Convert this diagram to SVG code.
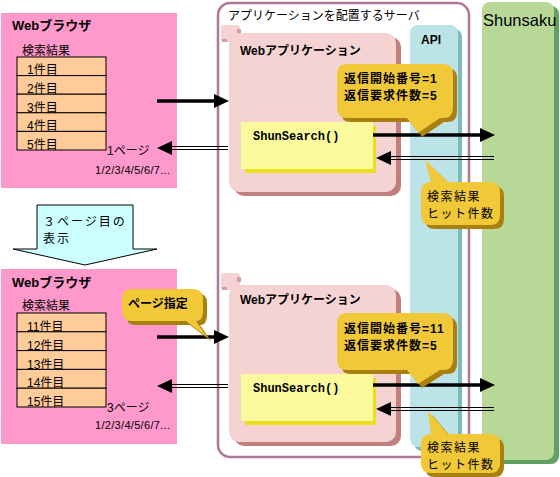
<svg xmlns="http://www.w3.org/2000/svg" width="560" height="477" viewBox="0 0 560 477">
<style>
text{font-family:"Liberation Sans","Noto Sans CJK JP",sans-serif;font-size:12px;fill:#000}
.b{font-weight:bold}
.mono{font-family:"Liberation Mono","Noto Sans CJK JP",monospace;font-weight:bold;font-size:12px}
.browser{fill:#ff99cc}
.cell{fill:#ffcc99;stroke:#000;stroke-width:1}
.app{fill:#f5d3d3}
.appsh{fill:#c08080}
.call{fill:#f0c838}
.callsh{fill:#a88010}
.ss{fill:#fafa9c}
.sssh{fill:#e8e020}
.thick{stroke:#000;stroke-width:3.5;fill:none}
.thin{stroke:#000;stroke-width:1;fill:none}
</style>
<defs>
<path id="hr" d="M0,0 L-15,-7 L-15,7 Z" fill="#000"/>
<path id="hl" d="M0,0 L15,-7 L15,7 Z" fill="#000"/>
</defs>
<rect width="560" height="477" fill="#fff"/>

<g id="server">
<rect x="218" y="3" width="251" height="454" rx="12" fill="none" stroke="#b07898" stroke-width="2.5"/>
<text x="228" y="20">アプリケーションを配置するサーバ</text>
</g>

<g id="api">
<rect x="414" y="29" width="48" height="422" rx="8" fill="#80b8c0"/>
<rect x="410" y="25" width="48" height="422" rx="8" fill="#bce3e8"/>
<text x="421" y="44" class="b">API</text>
</g>

<g id="shunsaku">
<rect x="486" y="6" width="73" height="458" rx="8" fill="#60a060"/>
<rect x="482" y="2" width="72" height="458" rx="8" fill="#b8d898"/>
<text x="483" y="26" style="font-size:16.5px">Shunsaku</text>
</g>

<g id="browser1">
<rect x="1" y="13" width="176" height="175" class="browser"/>
<text x="12" y="30" class="b" style="font-size:13px">Webブラウザ</text>
<text x="22" y="55">検索結果</text>
<rect x="17" y="57" width="89" height="18.6" class="cell"/>
<rect x="17" y="75.6" width="89" height="18.6" class="cell"/>
<rect x="17" y="94.2" width="89" height="18.6" class="cell"/>
<rect x="17" y="112.8" width="89" height="18.6" class="cell"/>
<rect x="17" y="131.4" width="89" height="18.6" class="cell"/>
<text x="27" y="74">1件目</text>
<text x="27" y="93">2件目</text>
<text x="27" y="112">3件目</text>
<text x="27" y="130">4件目</text>
<text x="27" y="149">5件目</text>
<text x="107" y="155">1ページ</text>
<text x="95" y="174" style="font-size:11px" textLength="75">1/2/3/4/5/6/7...</text>
</g>

<g id="browser2">
<rect x="1" y="269" width="176" height="175" class="browser"/>
<text x="12" y="287" class="b" style="font-size:13px">Webブラウザ</text>
<text x="22" y="310">検索結果</text>
<rect x="17" y="313" width="89" height="18.8" class="cell"/>
<rect x="17" y="331.8" width="89" height="18.8" class="cell"/>
<rect x="17" y="350.6" width="89" height="18.8" class="cell"/>
<rect x="17" y="369.4" width="89" height="18.8" class="cell"/>
<rect x="17" y="388.2" width="89" height="18.8" class="cell"/>
<text x="27" y="331">11件目</text>
<text x="27" y="350">12件目</text>
<text x="27" y="369">13件目</text>
<text x="27" y="387">14件目</text>
<text x="27" y="406">15件目</text>
<text x="107" y="412">3ページ</text>
<text x="95" y="429" style="font-size:11px" textLength="75">1/2/3/4/5/6/7...</text>
</g>

<g id="downarrow">
<polygon points="37,205 133,205 133,249 157,249 85,265 13,249 37,249" fill="#ccffff" stroke="#000" stroke-width="1"/>
<text x="43" y="226" letter-spacing="2">３ページ目の</text>
<text x="43" y="243" letter-spacing="2">表示</text>
</g>

<g id="webapp1">
<rect x="221" y="25" width="19" height="17" rx="3" fill="#f5d3d3"/>
<rect x="222" y="39" width="5" height="3" fill="#d898b8"/>
<rect x="237" y="29" width="4" height="5" fill="#d898b8"/>
<rect x="234" y="37" width="167" height="159" rx="10" class="appsh"/>
<rect x="229" y="33" width="167" height="159" rx="10" class="app"/>
<text x="240" y="55" class="b">Webアプリケーション</text>
</g>

<g id="webapp2">
<rect x="221" y="273" width="19" height="17" rx="3" fill="#f5d3d3"/>
<rect x="222" y="287" width="5" height="3" fill="#d898b8"/>
<rect x="237" y="277" width="4" height="5" fill="#d898b8"/>
<rect x="234" y="289" width="167" height="157" rx="10" class="appsh"/>
<rect x="229" y="285" width="167" height="157" rx="10" class="app"/>
<text x="240" y="304" class="b">Webアプリケーション</text>
</g>

<g id="shunsearch1">
<rect x="245" y="126" width="131" height="47" class="sssh"/>
<rect x="241" y="122" width="132" height="47" class="ss"/>
<text x="253" y="140" class="mono">ShunSearch()</text>
</g>

<g id="shunsearch2">
<rect x="245" y="378" width="131" height="47" class="sssh"/>
<rect x="241" y="374" width="132" height="47" class="ss"/>
<text x="253" y="392" class="mono">ShunSearch()</text>
</g>

<g id="connectors">
<line x1="157" y1="101" x2="215" y2="101" class="thick"/>
<use href="#hr" x="229" y="101"/>
<line x1="170" y1="146.5" x2="228" y2="146.5" class="thin"/>
<line x1="170" y1="149.5" x2="228" y2="149.5" class="thin"/>
<use href="#hl" x="157" y="148"/>
<line x1="373" y1="135" x2="482" y2="135" class="thick"/>
<use href="#hr" x="495" y="135"/>
<line x1="390" y1="156.5" x2="494" y2="156.5" class="thin"/>
<line x1="390" y1="159.5" x2="494" y2="159.5" class="thin"/>
<use href="#hl" x="376" y="158"/>

<line x1="157" y1="337" x2="215" y2="337" class="thick"/>
<use href="#hr" x="229" y="337"/>
<line x1="170" y1="384.5" x2="228" y2="384.5" class="thin"/>
<line x1="170" y1="387.5" x2="228" y2="387.5" class="thin"/>
<use href="#hl" x="157" y="386"/>
<line x1="373" y1="385" x2="482" y2="385" class="thick"/>
<use href="#hr" x="495" y="385"/>
<line x1="390" y1="407.5" x2="494" y2="407.5" class="thin"/>
<line x1="390" y1="410.5" x2="494" y2="410.5" class="thin"/>
<use href="#hl" x="376" y="409"/>
</g>

<g id="callout-req1">
<path d="M347,64 H443 Q453,64 453,74 V108 Q453,118 443,118 H440 L418,133 L407,118 H347 Q337,118 337,108 V74 Q337,64 347,64 Z" class="callsh" transform="translate(4,4)"/>
<path d="M347,64 H443 Q453,64 453,74 V108 Q453,118 443,118 H440 L418,133 L407,118 H347 Q337,118 337,108 V74 Q337,64 347,64 Z" class="call"/>
<text x="344" y="83" class="b" letter-spacing="1">返信開始番号=1</text>
<text x="344" y="100" class="b" letter-spacing="1">返信要求件数=5</text>
</g>

<g id="callout-req2">
<path d="M347,313 H443 Q453,313 453,323 V360 Q453,370 443,370 H440 L418,384 L407,370 H347 Q337,370 337,360 V323 Q337,313 347,313 Z" class="callsh" transform="translate(4,4)"/>
<path d="M347,313 H443 Q453,313 453,323 V360 Q453,370 443,370 H440 L418,384 L407,370 H347 Q337,370 337,360 V323 Q337,313 347,313 Z" class="call"/>
<text x="344" y="333" class="b" letter-spacing="1">返信開始番号=11</text>
<text x="344" y="350" class="b" letter-spacing="1">返信要求件数=5</text>
</g>

<g id="callout-res1">
<path d="M431,182 L425,160 L448,182 H490 Q500,182 500,192 V215 Q500,225 490,225 H431 Q421,225 421,215 V192 Q421,182 431,182 Z" class="callsh" transform="translate(4,4)"/>
<path d="M431,182 L425,160 L448,182 H490 Q500,182 500,192 V215 Q500,225 490,225 H431 Q421,225 421,215 V192 Q421,182 431,182 Z" class="call"/>
<text x="427" y="201" letter-spacing="1.5">検索結果</text>
<text x="427" y="218" letter-spacing="1.5">ヒット件数</text>
</g>

<g id="callout-res2">
<path d="M431,434 L428,411 L448,434 H490 Q500,434 500,444 V463 Q500,473 490,473 H431 Q421,473 421,463 V444 Q421,434 431,434 Z" class="callsh" transform="translate(4,4)"/>
<path d="M431,434 L428,411 L448,434 H490 Q500,434 500,444 V463 Q500,473 490,473 H431 Q421,473 421,463 V444 Q421,434 431,434 Z" class="call"/>
<text x="427" y="452" letter-spacing="1.5">検索結果</text>
<text x="427" y="469" letter-spacing="1.5">ヒット件数</text>
</g>

<g id="callout-page">
<path d="M132,289 H193 Q203,289 203,299 V311 Q203,321 196,321 L207,337 L186,321 H132 Q122,321 122,311 V299 Q122,289 132,289 Z" class="callsh" transform="translate(4,4)"/>
<path d="M132,289 H193 Q203,289 203,299 V311 Q203,321 196,321 L207,337 L186,321 H132 Q122,321 122,311 V299 Q122,289 132,289 Z" class="call"/>
<text x="128" y="308" class="b">ページ指定</text>
</g>
</svg>
